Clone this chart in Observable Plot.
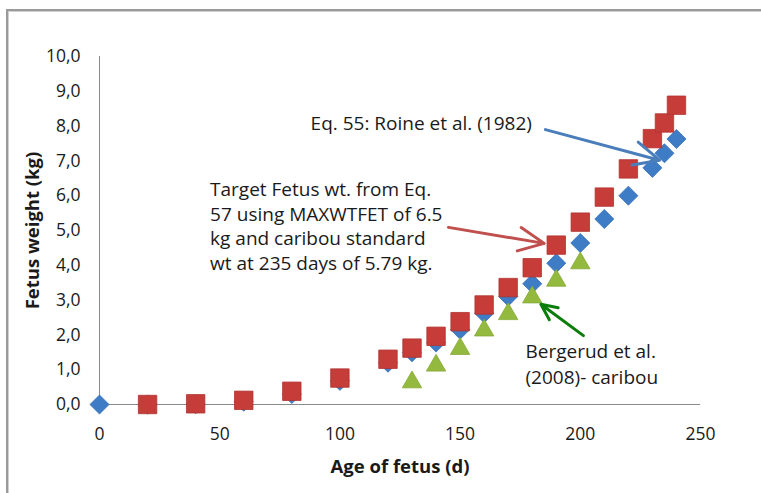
<!DOCTYPE html>
<html>
<head>
<meta charset="utf-8">
<script src="https://cdn.jsdelivr.net/npm/d3@7"></script>
<script src="https://cdn.jsdelivr.net/npm/@observablehq/plot@0.6"></script>
<style>
  html, body { margin: 0; padding: 0; background: #fff; }
  #wrap { position: relative; width: 761px; height: 493px; overflow: hidden; }
  #border { position: absolute; left: 6px; top: 9px; width: 800px; height: 600px;
            border-left: 2px solid #9a9a9a; border-top: 2px solid #9a9a9a;
            box-shadow: inset 1px 1px 0 #d0d0d0; }
  #chart { position: absolute; left: 0; top: 0; }
</style>
</head>
<body>
<div id="wrap"><div id="border"></div><div id="chart"></div></div>
<script>
// ---- data ----
const eq55Age    = [0, 20, 40, 60, 80, 100, 120, 130, 140, 150, 160, 170, 180, 190, 200, 210, 220, 230, 235, 240];
const eq55Weight = [0.0, 0.0, 0.01, 0.08, 0.3, 0.68, 1.2, 1.5, 1.78, 2.15, 2.62, 3.1, 3.47, 4.06, 4.64, 5.33, 6.0, 6.8, 7.22, 7.63];

const targetAge    = [20, 40, 60, 80, 100, 120, 130, 140, 150, 160, 170, 180, 190, 200, 210, 220, 230, 235, 240];
const targetWeight = [0.0, 0.02, 0.12, 0.38, 0.76, 1.3, 1.62, 1.96, 2.38, 2.86, 3.36, 3.93, 4.58, 5.24, 5.96, 6.77, 7.64, 8.09, 8.6];

const bergerudAge    = [130, 140, 150, 160, 170, 180, 190, 200];
const bergerudWeight = [0.64, 1.12, 1.6, 2.13, 2.6, 3.08, 3.56, 4.06];

const xTicks = [0, 50, 100, 150, 200, 250];
const yTicks = [0, 1, 2, 3, 4, 5, 6, 7, 8, 9, 10];

const xLabel = "Age of fetus (d)";
const yLabel = "Fetus weight (kg)";

const labelEq55 = "Eq. 55: Roine et al. (1982)";
const labelTarget = "Target Fetus wt. from Eq.\n57 using MAXWTFET of 6.5\nkg and caribou standard\nwt at 235 days of 5.79 kg.";
const labelBergerud = "Bergerud et al.\n(2008)- caribou";

// ---- tables built from the arrays ----
const eq55 = eq55Age.map((a, i) => ({age: a, w: eq55Weight[i]}));
const target = targetAge.map((a, i) => ({age: a, w: targetWeight[i]}));
const bergerud = bergerudAge.map((a, i) => ({age: a, w: bergerudWeight[i]}));

// annotation placement (data units)
const noteEq55 = [{text: labelEq55, x: 87.8, y: 8.05}];
const noteTarget = [{text: labelTarget, x: 46.0, y: 5.16}];
const noteBergerud = [{text: labelBergerud, x: 177.2, y: 1.21}];
const arrows = [
  {x1: 185.5, y1: 7.9, x2: 233.0, y2: 7.02, color: "#4a7ebb"},
  {x1: 145.2, y1: 5.09, x2: 185.0, y2: 4.63, color: "#c0504d"},
  {x1: 201.3, y1: 1.98, x2: 183.6, y2: 2.88, color: "#0a7d0a"}
];

const fmt = d => d.toFixed(1).replace(".", ",");
const FONT = "'Open Sans', sans-serif";
const TXT = "#1a1a1a";

const plot = Plot.plot({
  width: 761,
  height: 493,
  marginLeft: 99,
  marginRight: 61,
  marginTop: 56,
  marginBottom: 89,
  style: {fontFamily: FONT, fontSize: "17px", color: TXT, background: "transparent", overflow: "visible"},
  x: {domain: [0, 250]},
  y: {domain: [0, 10]},
  marks: [
    Plot.axisX({ticks: xTicks, tickFormat: d => String(d), tickSize: 0, tickPadding: 23,
      label: xLabel, labelAnchor: "center", labelArrow: "none", labelOffset: 68,
      fontSize: 17.5, fill: TXT}),
    Plot.axisY({ticks: yTicks, tickFormat: fmt, tickSize: 0, tickPadding: 19,
      label: yLabel, labelAnchor: "center", labelArrow: "none", labelOffset: 74,
      fontSize: 17.5, fill: TXT}),
    Plot.ruleY([0], {stroke: "#8a8a8a", strokeWidth: 1}),
    Plot.ruleX([0], {y1: 0, y2: 10, stroke: "#8a8a8a", strokeWidth: 1}),
    // series
    Plot.dot(eq55, {x: "age", y: "w", symbol: "diamond2", r: 8.6, fill: "#3f7cc6", stroke: "#3670b8", strokeWidth: 0.8}),
    Plot.dot(target, {x: "age", y: "w", symbol: "square", r: 10.4, fill: "#c63c39", stroke: "#b03330", strokeWidth: 0.8}),
    Plot.dot(bergerud, {x: "age", y: "w", symbol: "triangle", r: 7.2, fill: "#93b93f", stroke: "#85a936", strokeWidth: 0.8}),
    // annotations
    Plot.arrow(arrows, {x1: "x1", y1: "y1", x2: "x2", y2: "y2", stroke: "color", strokeWidth: 3, headLength: 14, headAngle: 50, bend: 0}),
    Plot.text(noteEq55, {x: "x", y: "y", text: "text", textAnchor: "start", lineAnchor: "middle",
      fill: TXT, fontSize: 19, fontFamily: FONT}),
    Plot.text(noteTarget, {x: "x", y: "y", text: "text", textAnchor: "start", lineAnchor: "middle",
      lineHeight: 1.29, fill: TXT, fontSize: 19, fontFamily: FONT}),
    Plot.text(noteBergerud, {x: "x", y: "y", text: "text", textAnchor: "start", lineAnchor: "middle",
      lineHeight: 1.37, fill: TXT, fontSize: 19, fontFamily: FONT})
  ]
});

// bold axis titles
d3.select(plot).selectAll("g[aria-label='x-axis label'] text, g[aria-label='y-axis label'] text")
  .attr("font-weight", "bold").attr("font-size", 18.5);

document.getElementById("chart").appendChild(plot);
</script>
</body>
</html>
